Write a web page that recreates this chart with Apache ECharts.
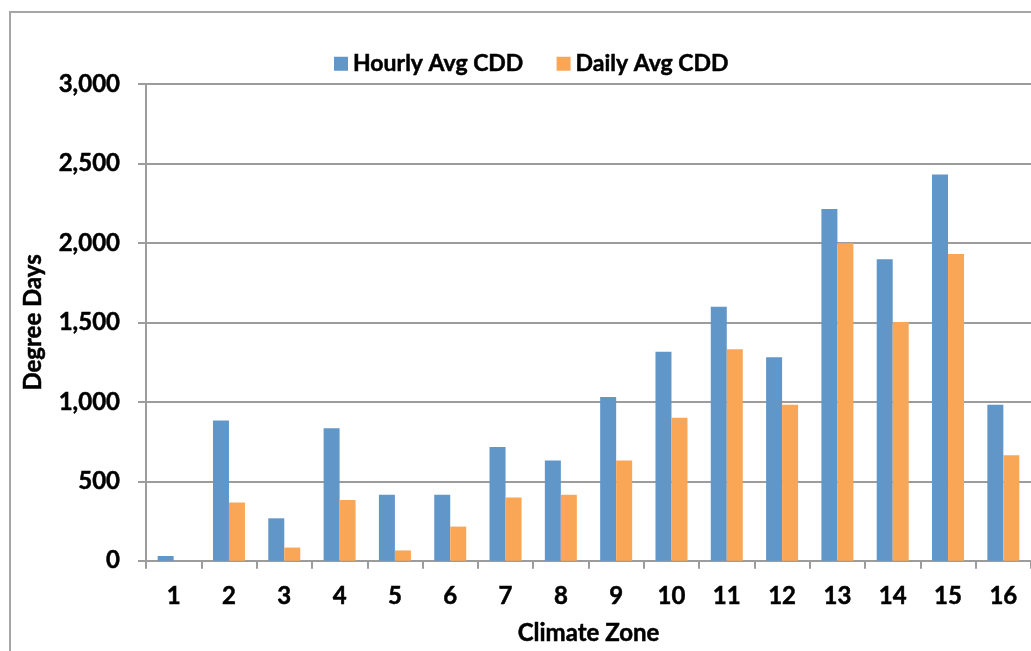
<!DOCTYPE html>
<html>
<head>
<meta charset="utf-8">
<script src="https://cdn.jsdelivr.net/npm/echarts@6/dist/echarts.min.js"></script>
<style>
html,body{margin:0;padding:0;background:#fff;}
#chart{width:1031px;height:651px;}
</style>
</head>
<body>
<div id="chart"></div>
<script>
const categories = ['1','2','3','4','5','6','7','8','9','10','11','12','13','14','15','16'];
const hourlyAvgCDD = [30, 883, 267, 833, 415, 415, 715, 631, 1031, 1315, 1598, 1281, 2214, 1898, 2431, 981];
const dailyAvgCDD  = [0, 367, 83, 383, 65, 215, 398, 415, 631, 900, 1331, 981, 1998, 1502, 1931, 664];
const seriesNames = ['Hourly Avg CDD', 'Daily Avg CDD'];
const yTicks = { min: 0, max: 3000, interval: 500 };

const FONT = 'Lato, "Open Sans", sans-serif';
const heavy = {fontFamily: FONT, fontWeight: 'bold', color: '#000', textBorderColor: '#000', textBorderWidth: 0.5};
const chart = echarts.init(document.getElementById('chart'), null, {renderer: 'canvas'});
const grid = '#9c9c9c';
chart.setOption({
  animation: false,
  backgroundColor: '#ffffff',
  graphic: [{
    type: 'rect',
    shape: {x: 10, y: 12, width: 1060, height: 700},
    style: {fill: 'none', stroke: '#a6a6a6', lineWidth: 2},
    silent: true
  }],
  legend: {
    left: 329, top: 47,
    itemWidth: 14, itemHeight: 14, itemGap: 33,
    icon: 'rect',
    textStyle: Object.assign({fontSize: 23, padding: [0,0,0,0]}, heavy),
    data: seriesNames
  },
  grid: {left: 146, top: 84, right: 0, bottom: 87, containLabel: false},
  xAxis: {
    type: 'category',
    data: categories,
    name: 'Climate Zone',
    nameLocation: 'middle',
    nameGap: 61,
    nameTextStyle: Object.assign({fontSize: 24}, heavy),
    axisLine: {lineStyle: {color: grid, width: 2}},
    axisTick: {show: true, length: 8, lineStyle: {color: grid, width: 2}},
    axisLabel: Object.assign({fontSize: 24, margin: 24}, heavy)
  },
  yAxis: {
    type: 'value',
    min: yTicks.min, max: yTicks.max, interval: yTicks.interval,
    name: 'Degree Days',
    nameLocation: 'middle',
    nameRotate: 90,
    nameGap: 101,
    nameTextStyle: Object.assign({fontSize: 24}, heavy),
    axisLine: {show: true, lineStyle: {color: grid, width: 2}},
    axisTick: {show: true, length: 8, lineStyle: {color: grid, width: 2}},
    splitLine: {lineStyle: {color: grid, width: 2}},
    axisLabel: Object.assign({
      fontSize: 24, margin: 26,
      formatter: v => v.toLocaleString('en-US')
    }, heavy)
  },
  series: [
    {name: seriesNames[0], type: 'bar', data: hourlyAvgCDD, barWidth: 16, barGap: '0%',
     itemStyle: {color: '#6196C9'}},
    {name: seriesNames[1], type: 'bar', data: dailyAvgCDD, barWidth: 16, barGap: '0%',
     itemStyle: {color: '#F9A756'}}
  ]
});
</script>
</body>
</html>
